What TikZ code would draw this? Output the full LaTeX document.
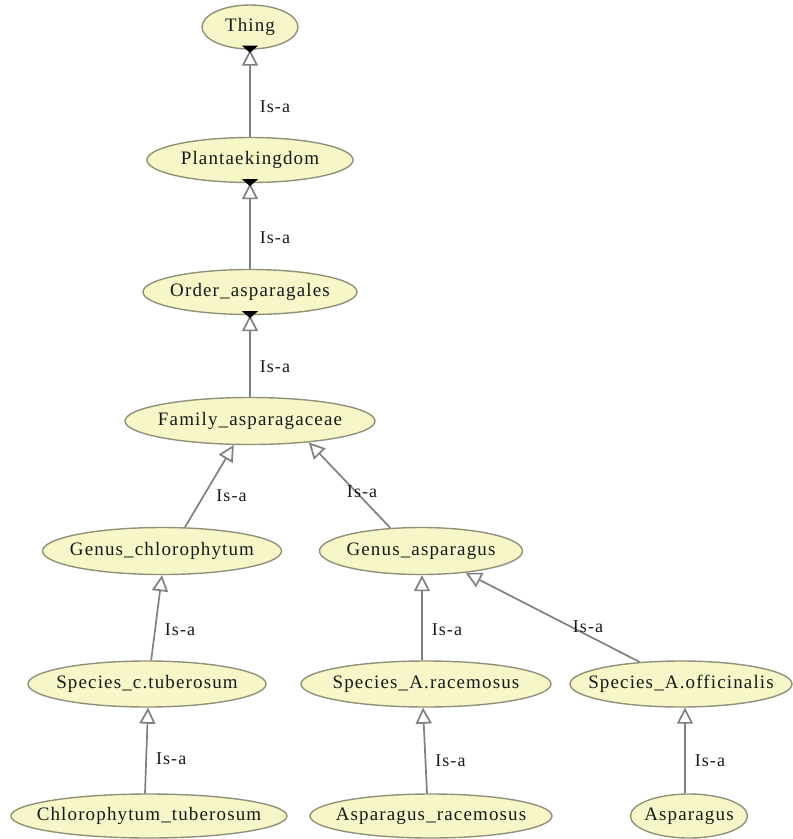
\documentclass[tikz,border=0pt]{standalone}
\usepackage{fontspec}
\setmainfont{Liberation Serif}[LetterSpace=6]
\usetikzlibrary{arrows.meta,shapes.geometric}
\definecolor{nodefill}{RGB}{246,246,200}
\definecolor{nodeline}{RGB}{145,145,122}
\definecolor{edgegrey}{RGB}{128,128,128}

\begin{document}
\begin{tikzpicture}[x=1pt, y=-1pt,
  font=\fontsize{19}{22}\selectfont,
  cls/.style={ellipse, draw=nodeline, line width=1.4pt, fill=nodefill, inner xsep=-45pt, inner ysep=0pt, text=black!90},
  isa/.style={-{Triangle[open, length=16pt, width=16pt]}, edgegrey, line width=1.7pt},
  lbl/.style={anchor=west, inner sep=0pt, xshift=9pt, text=black!90, font=\fontsize{18}{21}\selectfont},
  nub/.style={fill=black}
]
\useasboundingbox[fill=white] (0,0) rectangle (793,839);
% upper chain
\node[cls, minimum width=96pt, minimum height=44pt] (thing) at (250,27) {Thing};
\node[cls, minimum width=206pt, minimum height=45pt] (plant) at (250,160) {Plantaekingdom};
\node[cls, minimum width=214pt, minimum height=45pt] (order) at (250,292) {Order\_asparagales};
\node[cls, minimum width=250pt, minimum height=47pt] (fam) at (250,421) {Family\_asparagaceae};
% genus
\node[cls, minimum width=239pt, minimum height=47pt] (gchl) at (162,551) {Genus\_chlorophytum};
\node[cls, minimum width=203pt, minimum height=47pt] (gasp) at (421,551) {Genus\_asparagus};
% species
\node[cls, minimum width=238pt, minimum height=46pt] (spc) at (147,684) {Species\_c.tuberosum};
\node[cls, minimum width=250pt, minimum height=46pt] (sprac) at (426,684) {Species\_A.racemosus};
\node[cls, minimum width=222pt, minimum height=46pt] (spoff) at (681,684) {Species\_A.officinalis};
% plants
\node[cls, minimum width=276pt, minimum height=44pt] (chl) at (149,816) {Chlorophytum\_tuberosum};
\node[cls, minimum width=242pt, minimum height=44pt] (arac) at (431,816) {Asparagus\_racemosus};
\node[cls, minimum width=117pt, minimum height=44pt] (asp) at (689,816) {Asparagus};

\draw[isa] (plant.north) -- node[lbl, pos=.34] {Is-a} (thing.south);
\draw[isa] (order.north) -- node[lbl, pos=.36] {Is-a} (plant.south);
\draw[isa] (fam.north) -- node[lbl, pos=.37] {Is-a} (order.south);
\draw[isa] (gchl.46) -- node[lbl, pos=.38, xshift=3pt] {Is-a} (fam.236);
\draw[isa] (gasp.143) -- node[lbl, anchor=center, pos=.42, xshift=-3pt] {Is-a} (fam.-20);
\draw[isa] (spc.80) -- node[lbl, pos=.36] {Is-a} (gchl.south);
\draw[isa] ([xshift=-4pt]sprac.north) -- node[lbl, pos=.36] {Is-a} ([xshift=1pt]gasp.south);
\draw[isa] (spoff.152) -- node[lbl, pos=.4, xshift=-7pt] {Is-a} (gasp.-26);
\draw[isa] ([xshift=-4pt]chl.north) -- node[lbl, pos=.41] {Is-a} ([xshift=1pt]spc.south);
\draw[isa] ([xshift=-4pt]arac.north) -- node[lbl, pos=.38] {Is-a} ([xshift=-3pt]sprac.south);
\draw[isa] ([xshift=-4pt]asp.north) -- node[lbl, pos=.38] {Is-a} ([xshift=4pt]spoff.south);

% collapse marks
\foreach \n in {thing,plant,order}
  \fill[nub] ([xshift=-8pt,yshift=4pt]\n.south) -- ([xshift=8pt,yshift=4pt]\n.south) -- ([yshift=-3pt]\n.south) -- cycle;
\end{tikzpicture}
\end{document}
